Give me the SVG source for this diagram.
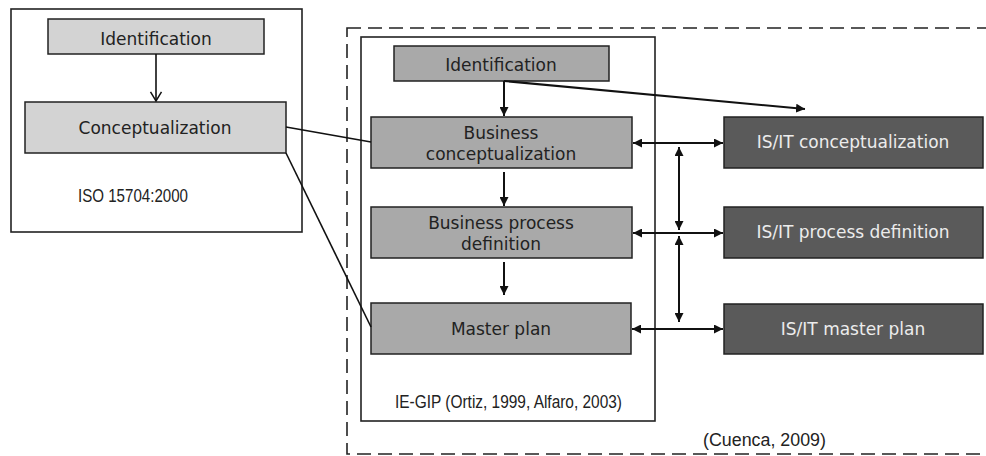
<svg xmlns="http://www.w3.org/2000/svg" width="986" height="456" viewBox="0 0 986 456">
<style>
  .frame { fill: none; stroke: #222; stroke-width: 1.6; }
  .dash { fill: none; stroke: #222; stroke-width: 1.6; stroke-dasharray: 14 7; }
  .light { fill: #d3d3d3; stroke: #222; stroke-width: 1.5; }
  .mid { fill: #a9a9a9; stroke: #222; stroke-width: 1.5; }
  .dark { fill: #5a5a5a; stroke: #222; stroke-width: 1.5; }
  .t { font-family: "DejaVu Sans", Verdana, sans-serif; font-size: 17px; fill: #222; text-anchor: middle; }
  .tw { font-family: "DejaVu Sans", Verdana, sans-serif; font-size: 17px; fill: #ececec; text-anchor: middle; }
  .n { font-family: "Liberation Sans", Arial, sans-serif; font-size: 17.5px; fill: #222; }
  .c { fill: none; stroke: #111; stroke-width: 2; }
  .cl { fill: none; stroke: #111; stroke-width: 1.6; }
</style>
<defs>
  <marker id="arr" viewBox="0 0 10 10" refX="10" refY="5" markerWidth="9" markerHeight="9" markerUnits="userSpaceOnUse" orient="auto-start-reverse">
    <path d="M0,0 L10,5 L0,10 z" fill="#111"/>
  </marker>
  <marker id="open" viewBox="0 0 12 14" refX="11" refY="7" markerWidth="11" markerHeight="14" markerUnits="userSpaceOnUse" orient="auto">
    <path d="M1,1 L11,7 L1,13" fill="none" stroke="#111" stroke-width="1.6"/>
  </marker>
</defs>

<g id="iso-frame">
  <rect class="frame" x="11" y="9" width="291" height="223"/>
  <text class="n" x="78" y="202" textLength="110" lengthAdjust="spacingAndGlyphs">ISO 15704:2000</text>
</g>
<g id="cuenca-frame">
  <rect class="dash" x="347" y="28" width="660" height="426"/>
  <text class="n" x="703" y="446" font-size="19" textLength="123" lengthAdjust="spacingAndGlyphs">(Cuenca, 2009)</text>
</g>
<g id="iegip-frame">
  <rect class="frame" x="361" y="37" width="294" height="384"/>
  <text class="n" x="395" y="408" textLength="227" lengthAdjust="spacingAndGlyphs">IE-GIP (Ortiz, 1999, Alfaro, 2003)</text>
</g>

<g id="iso-identification">
  <rect class="light" x="48" y="19" width="216" height="35"/>
  <text class="t" x="156" y="45">Identification</text>
</g>
<g id="iso-conceptualization">
  <rect class="light" x="25" y="102" width="261" height="51"/>
  <text class="t" x="155" y="134">Conceptualization</text>
</g>

<g id="identification">
  <rect class="mid" x="394" y="46" width="215" height="35"/>
  <text class="t" x="501" y="71">Identification</text>
</g>
<g id="business-conceptualization">
  <rect class="mid" x="371" y="117" width="261" height="51"/>
  <text class="t" x="501" y="139">Business</text>
  <text class="t" x="501" y="160">conceptualization</text>
</g>
<g id="business-process-definition">
  <rect class="mid" x="371" y="207" width="261" height="51"/>
  <text class="t" x="501" y="229">Business process</text>
  <text class="t" x="501" y="250">definition</text>
</g>
<g id="master-plan">
  <rect class="mid" x="371" y="303" width="260" height="51"/>
  <text class="t" x="501" y="335">Master plan</text>
</g>

<g id="isit-conceptualization">
  <rect class="dark" x="724" y="117" width="259" height="51"/>
  <text class="tw" x="853" y="148">IS/IT conceptualization</text>
</g>
<g id="isit-process-definition">
  <rect class="dark" x="724" y="207" width="259" height="51"/>
  <text class="tw" x="853" y="238">IS/IT process definition</text>
</g>
<g id="isit-master-plan">
  <rect class="dark" x="724" y="304" width="259" height="50"/>
  <text class="tw" x="853" y="335">IS/IT master plan</text>
</g>

<g id="connectors">
  <line class="cl" x1="156" y1="54" x2="156" y2="101" marker-end="url(#open)"/>
  <line class="cl" x1="286" y1="127" x2="371" y2="142"/>
  <line class="cl" x1="286" y1="153" x2="371" y2="327"/>
  <line class="c" x1="504" y1="81" x2="504" y2="116" marker-end="url(#arr)"/>
  <line class="c" x1="504" y1="81" x2="805" y2="109" marker-end="url(#arr)"/>
  <line class="c" x1="504" y1="172" x2="504" y2="206" marker-end="url(#arr)"/>
  <line class="c" x1="504" y1="262" x2="504" y2="295" marker-end="url(#arr)"/>
  <line class="c" x1="633" y1="143" x2="723" y2="143" marker-start="url(#arr)" marker-end="url(#arr)"/>
  <line class="c" x1="633" y1="233" x2="723" y2="233" marker-start="url(#arr)" marker-end="url(#arr)"/>
  <line class="c" x1="632" y1="329" x2="723" y2="329" marker-start="url(#arr)" marker-end="url(#arr)"/>
  <line class="c" x1="679" y1="147" x2="679" y2="230" marker-start="url(#arr)" marker-end="url(#arr)"/>
  <line class="c" x1="679" y1="236" x2="679" y2="322" marker-start="url(#arr)" marker-end="url(#arr)"/>
</g>
</svg>
